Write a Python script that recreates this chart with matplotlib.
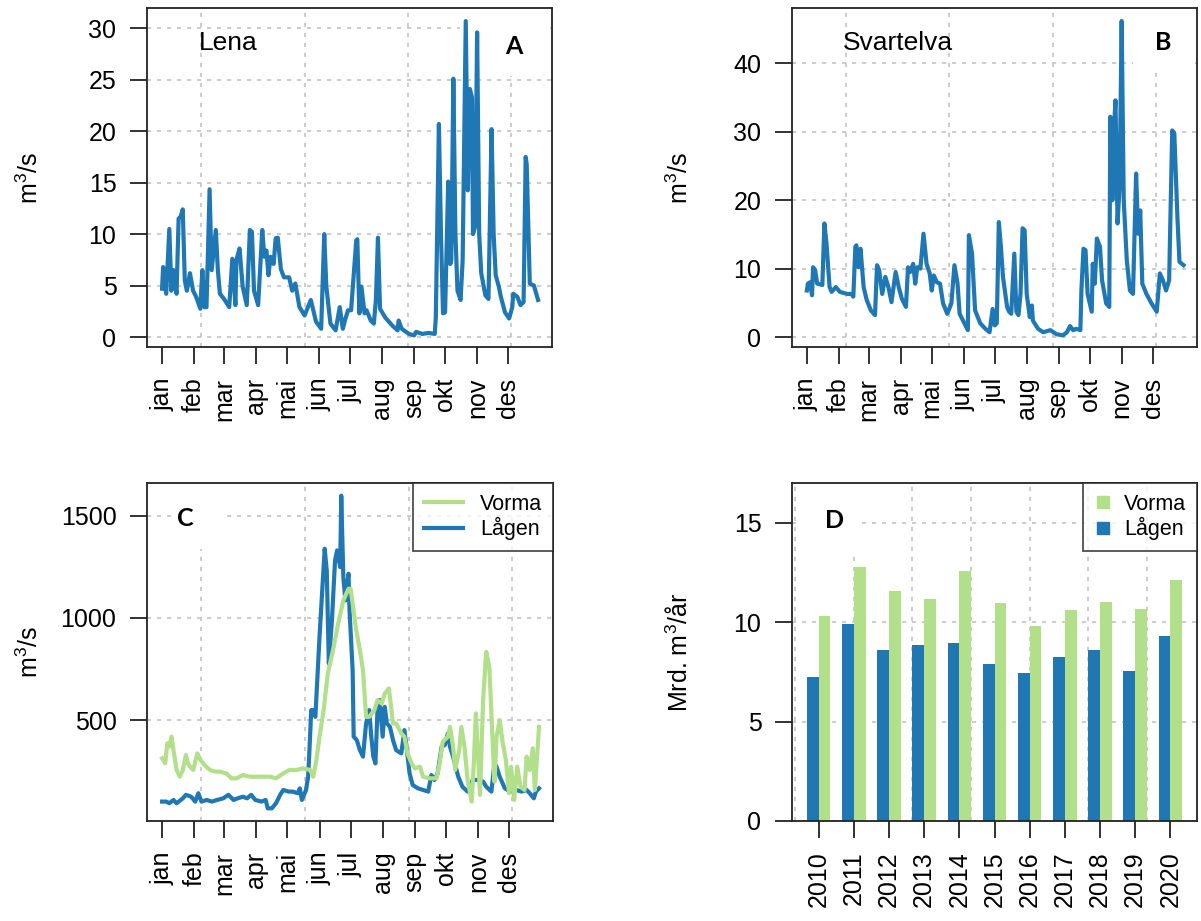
import matplotlib
matplotlib.use("Agg")
import matplotlib.pyplot as plt
from matplotlib.lines import Line2D
from matplotlib.patches import Rectangle

plt.rcParams['font.family'] = ['Liberation Sans', 'DejaVu Sans']
plt.rcParams['mathtext.fontset'] = 'custom'
plt.rcParams['mathtext.rm'] = 'Liberation Sans'
plt.rcParams['mathtext.default'] = 'regular'

BLUE = '#1f78b4'
GREEN = '#b2df8a'
GRID = '#c4c4c4'
INK = '#222222'

# month axis (day of year, 2020)
months = ['jan', 'feb', 'mar', 'apr', 'mai', 'jun', 'jul', 'aug', 'sep', 'okt', 'nov', 'des']
month_start = [0, 31, 60, 91, 121, 152, 182, 213, 244, 274, 305, 335]
date_grid = [38, 138, 238, 338]

# Lena, daily discharge (m3/s)
lena_day = [0, 1, 4, 7, 9, 11, 14, 16, 18, 20, 22, 24, 27, 30, 33, 37, 39, 41, 43, 46,
            48, 52, 54, 56, 60, 65, 68, 71, 72, 75, 78, 82, 85, 87, 89, 93, 97, 99, 101, 103,
            105, 108, 110, 112, 115, 118, 123, 126, 129, 133, 138, 144, 149, 154, 157, 159, 163, 168, 172, 175,
            177, 180, 183, 188, 189, 191, 193, 196, 198, 202, 205, 207, 209, 211, 216, 223, 228, 229, 232, 239,
            244, 246, 252, 258, 264, 265, 268, 270, 272, 274, 277, 279, 280, 282, 284, 286, 289, 291, 294, 296,
            298, 300, 301, 303, 305, 307, 309, 313, 316, 319, 321, 323, 326, 328, 332, 336, 339, 340, 344, 347,
            350, 352, 353, 356, 360, 364]
lena_q = [4.7, 6.8, 4.2, 10.5, 4.5, 6.5, 4.2, 11.5, 11.7, 12.4, 5.5, 4.5, 6.2, 4.5, 3.9, 2.75, 6.5, 2.9, 2.9, 14.35,
          6.5, 10.4, 6.5, 4.2, 3.7, 2.9, 7.6, 3.1, 7.5, 8.6, 4.9, 3.1, 10.4, 10.2, 4.5, 3.1, 10.4, 7.8, 8.4, 6.0,
          7.8, 7.1, 9.6, 9.65, 6.6, 5.8, 5.8, 4.5, 5.2, 2.9, 2.1, 3.6, 1.5, 0.8, 10.0, 4.9, 1.3, 0.65, 2.9, 0.8,
          1.6, 2.6, 2.6, 9.4, 9.5, 2.3, 4.9, 2.3, 2.6, 1.6, 1.3, 3.6, 9.65, 2.75, 1.9, 1.1, 0.65, 1.6, 0.8, 0.3,
          0.16, 0.5, 0.3, 0.4, 0.3, 1.9, 20.7, 10.0, 2.3, 2.4, 15.1, 7.1, 7.5, 25.1, 10.0, 4.5, 3.6, 7.5, 30.7, 14.25,
          24.1, 23.3, 10.0, 10.7, 29.6, 10.0, 6.2, 4.05, 3.7, 20.2, 10.0, 6.0, 4.9, 3.9, 2.4, 1.8, 2.9, 4.2, 3.9, 3.1,
          3.4, 17.5, 16.8, 5.2, 5.0, 3.6]

# Svartelva, daily discharge (m3/s)
svart_day = [0, 1, 3, 5, 6, 8, 10, 15, 17, 19, 22, 24, 28, 32, 39, 43, 45, 47, 48, 50,
             52, 55, 58, 62, 66, 68, 70, 73, 76, 79, 82, 86, 89, 92, 96, 98, 100, 103, 105, 107,
             110, 113, 116, 119, 121, 123, 126, 129, 132, 136, 140, 143, 146, 148, 152, 156, 157, 160, 163, 168,
             173, 177, 180, 182, 184, 186, 188, 190, 194, 196, 198, 201, 203, 205, 207, 209, 211, 213, 216, 218,
             219, 224, 229, 236, 242, 248, 252, 255, 258, 261, 265, 266, 268, 270, 272, 276, 277, 279, 281, 284,
             286, 290, 293, 294, 296, 298, 299, 301, 303, 305, 307, 310, 313, 316, 319, 321, 323, 325, 329, 334,
             339, 342, 345, 348, 351, 354, 356, 359, 361, 365]
svart_q = [6.8, 7.8, 8.0, 6.1, 10.2, 9.8, 7.8, 7.6, 16.6, 13.7, 7.3, 6.6, 7.3, 6.6, 6.3, 6.3, 5.9, 13.2, 13.4, 10.2,
           12.9, 7.3, 5.4, 3.9, 3.2, 10.5, 9.8, 6.3, 8.8, 7.3, 5.1, 9.5, 7.3, 5.6, 4.4, 10.2, 9.5, 10.7, 7.8, 10.2,
           10.0, 15.1, 10.7, 9.3, 6.8, 9.0, 8.0, 7.8, 4.9, 3.4, 4.9, 10.5, 7.8, 3.4, 2.2, 1.0, 14.9, 12.2, 3.9, 2.0,
           1.2, 0.7, 4.1, 1.7, 2.0, 16.8, 13.2, 8.8, 4.4, 3.7, 3.4, 12.2, 3.7, 3.2, 6.3, 15.9, 15.6, 6.3, 2.9, 4.6,
           2.4, 1.2, 0.7, 1.0, 0.4, 0.25, 0.7, 1.6, 1.0, 1.2, 1.0, 6.8, 12.9, 12.7, 6.3, 3.7, 10.7, 7.8, 14.4, 13.2,
           8.3, 4.9, 4.4, 32.2, 20.0, 31.7, 34.6, 16.6, 22.0, 46.2, 20.0, 11.2, 6.8, 6.3, 23.9, 15.1, 18.5, 7.8, 6.3, 4.9,
           3.7, 9.3, 8.3, 6.8, 8.3, 30.2, 29.8, 17.6, 11.0, 10.5]

# Lågen, daily discharge (m3/s)
lagen_day = [0, 4, 7, 11, 14, 20, 23, 28, 32, 35, 38, 43, 48, 53, 59, 64, 69, 73, 78, 82,
             86, 90, 96, 100, 102, 106, 110, 114, 117, 122, 126, 131, 133, 135, 139, 141, 142, 144, 146, 148,
             152, 157, 159, 161, 164, 167, 169, 172, 173, 175, 177, 180, 181, 184, 185, 188, 191, 194, 197, 200,
             202, 204, 206, 208, 210, 213, 215, 217, 220, 223, 226, 231, 234, 236, 239, 242, 247, 252, 257, 260,
             263, 266, 270, 273, 276, 278, 281, 286, 290, 295, 300, 305, 310, 313, 318, 321, 323, 326, 331, 336,
             342, 347, 352, 355, 359, 361, 364]
lagen_q = [101, 101, 93, 109, 93, 117, 134, 125, 101, 142, 101, 109, 101, 109, 117, 134, 109, 117, 125, 117,
           134, 109, 101, 109, 68, 68, 93, 134, 158, 150, 150, 142, 166, 109, 158, 223, 321, 549, 549, 516,
           907, 1339, 1233, 777, 989, 1282, 1331, 1249, 1599, 1200, 1086, 1217, 1037, 744, 419, 402, 353, 321, 484, 549,
           419, 321, 288, 549, 598, 419, 565, 484, 467, 402, 353, 337, 451, 370, 239, 182, 166, 158, 150, 231,
           207, 239, 370, 378, 435, 370, 321, 223, 174, 150, 207, 207, 199, 174, 150, 288, 272, 223, 166, 150,
           158, 150, 158, 142, 117, 150, 166]

# Vorma, daily discharge (m3/s)
vorma_day = [0, 3, 5, 7, 9, 11, 14, 17, 20, 23, 25, 27, 30, 34, 37, 41, 46, 51, 56, 62,
             67, 72, 78, 85, 91, 97, 104, 110, 117, 123, 130, 136, 143, 146, 149, 152, 156, 160, 165, 170,
             175, 180, 182, 184, 187, 191, 194, 197, 200, 205, 208, 212, 215, 219, 223, 226, 231, 234, 237, 241,
             244, 249, 252, 258, 265, 268, 271, 276, 278, 281, 283, 287, 289, 292, 295, 299, 301, 303, 307, 308,
             310, 313, 316, 319, 321, 323, 326, 329, 332, 335, 337, 340, 343, 346, 350, 352, 355, 358, 360, 364]
vorma_q = [313, 288, 386, 370, 419, 353, 256, 223, 256, 329, 288, 272, 256, 337, 305, 280, 256, 248, 248, 239,
           215, 215, 231, 223, 223, 223, 223, 215, 239, 256, 256, 264, 256, 223, 305, 419, 549, 728, 842, 972,
           1086, 1143, 1143, 1070, 956, 842, 744, 516, 516, 549, 598, 581, 630, 655, 484, 484, 435, 419, 337, 288,
           264, 272, 223, 215, 215, 288, 394, 419, 467, 370, 256, 353, 467, 370, 207, 101, 288, 533, 134, 288,
           598, 834, 761, 419, 199, 419, 500, 386, 305, 142, 272, 109, 272, 174, 158, 321, 256, 362, 158, 467]

# yearly runoff (Mrd. m3/år)
years = [2010, 2011, 2012, 2013, 2014, 2015, 2016, 2017, 2018, 2019, 2020]
lagen_year = [7.25, 9.9, 8.6, 8.85, 8.95, 7.9, 7.45, 8.25, 8.6, 7.55, 9.3]
vorma_year = [10.3, 12.8, 11.55, 11.15, 12.55, 10.95, 9.8, 10.6, 11.0, 10.65, 12.1]

TICK_SIZE = 18
LABEL_SIZE = 18
LW = 3.0


def style_axes(ax, yticks, xgrid):
    for s in ax.spines.values():
        s.set_linewidth(1.3)
        s.set_color(INK)
    ax.tick_params(direction='out', length=12, width=1.3, color=INK,
                   labelsize=TICK_SIZE, pad=10)
    ax.set_yticks(yticks)
    for y in yticks:
        ax.axhline(y, color=GRID, lw=1.2, ls=(0, (2.5, 3.5)), zorder=0)
    for x in xgrid:
        ax.axvline(x, color=GRID, lw=1.2, ls=(0, (2.5, 3.5)), zorder=0)


def month_axis(ax, xlim):
    ax.set_xticks(month_start)
    ax.set_xticklabels(months, rotation=90)
    ax.set_xlim(*xlim)


def letter(ax, txt, x, y, box):
    ax.add_patch(Rectangle((box[0], box[1]), box[2], box[3], transform=ax.transAxes,
                           facecolor='white', edgecolor='none', zorder=1))
    ax.text(x, y, txt, transform=ax.transAxes, ha='center', va='center',
            fontsize=18, fontweight='bold', family='Lato', zorder=5)


fig = plt.figure(figsize=(12.01, 9.21), dpi=100)
W, H = 1201, 921


def add_axes(left, top, right, bottom):
    return fig.add_axes([left / W, 1 - bottom / H, (right - left) / W, (bottom - top) / H])


axA = add_axes(147, 8, 552, 347)
axB = add_axes(792, 8, 1197, 347)
axC = add_axes(147, 483, 553, 821)
axD = add_axes(792, 483, 1197, 821)

# A: Lena
style_axes(axA, [0, 5, 10, 15, 20, 25, 30], date_grid)
axA.plot(lena_day, lena_q, color=BLUE, lw=LW, zorder=3)
month_axis(axA, (-14.6, 377.5))
axA.set_ylim(-0.97, 31.97)
axA.set_ylabel('m$^3$/s', fontsize=LABEL_SIZE)
axA.yaxis.set_label_coords(-0.257, 0.5)
axA.text(0.128, 0.897, 'Lena', transform=axA.transAxes, fontsize=19, va='center', zorder=5)
letter(axA, 'A', 0.906, 0.885, (0.773, 0.80, 0.222, 0.195))

# B: Svartelva
style_axes(axB, [0, 10, 20, 30, 40], date_grid)
axB.plot(svart_day, svart_q, color=BLUE, lw=LW, zorder=3)
month_axis(axB, (-14.4, 378))
axB.set_ylim(-1.46, 48.1)
axB.set_ylabel('m$^3$/s', fontsize=LABEL_SIZE)
axB.yaxis.set_label_coords(-0.244, 0.5)
axB.text(0.125, 0.897, 'Svartelva', transform=axB.transAxes, fontsize=19, va='center', zorder=5)
letter(axB, 'B', 0.916, 0.897, (0.842, 0.81, 0.153, 0.185))

# C: Lågen and Vorma, daily
style_axes(axC, [500, 1000, 1500], date_grid)
axC.plot(lagen_day, lagen_q, color=BLUE, lw=LW, zorder=3, label='Lågen')
axC.plot(vorma_day, vorma_q, color=GREEN, lw=LW, zorder=3, label='Vorma')
month_axis(axC, (-14.6, 377.5))
axC.set_ylim(6, 1661)
axC.set_ylabel('m$^3$/s', fontsize=LABEL_SIZE)
axC.yaxis.set_label_coords(-0.257, 0.5)
letter(axC, 'C', 0.094, 0.896, (0.064, 0.805, 0.121, 0.195))
handles = [Line2D([], [], color=GREEN, lw=LW), Line2D([], [], color=BLUE, lw=LW)]
legC = axC.legend(handles, ['Vorma', 'Lågen'], loc='upper right', fontsize=15.5,
                  frameon=True, fancybox=False, borderaxespad=0, handlelength=1.8,
                  handletextpad=0.8, labelspacing=0.12, borderpad=0.5)
legC.get_frame().set_edgecolor(INK)
legC.get_frame().set_linewidth(1.3)
legC.set_zorder(6)

# D: yearly runoff
xpos = [3 * i + 2 for i in range(len(years))]
style_axes(axD, [0, 5, 10, 15], [0, 5, 10, 15, 20, 25, 30])
axD.bar([x - 0.5 for x in xpos], lagen_year, width=1, color=BLUE, zorder=2)
axD.bar([x + 0.5 for x in xpos], vorma_year, width=1, color=GREEN, zorder=2)
axD.set_xticks(xpos)
axD.set_xticklabels([str(y) for y in years], rotation=90)
axD.set_xlim(-0.28, 34.28)
axD.set_ylim(0, 17)
axD.set_ylabel('Mrd. m$^3$/år', fontsize=LABEL_SIZE)
axD.yaxis.set_label_coords(-0.244, 0.5)
letter(axD, 'D', 0.104, 0.890, (0.02, 0.795, 0.143, 0.2))
handles = [Line2D([], [], color=GREEN, marker='s', ls='none', markersize=9),
           Line2D([], [], color=BLUE, marker='s', ls='none', markersize=9)]
legD = axD.legend(handles, ['Vorma', 'Lågen'], loc='upper right', fontsize=15.5,
                  frameon=True, fancybox=False, borderaxespad=0, handlelength=0.8,
                  handletextpad=0.6, labelspacing=0.12, borderpad=0.5)
legD.get_frame().set_edgecolor(INK)
legD.get_frame().set_linewidth(1.3)
legD.set_zorder(6)

fig.savefig('out.png', dpi=100)
